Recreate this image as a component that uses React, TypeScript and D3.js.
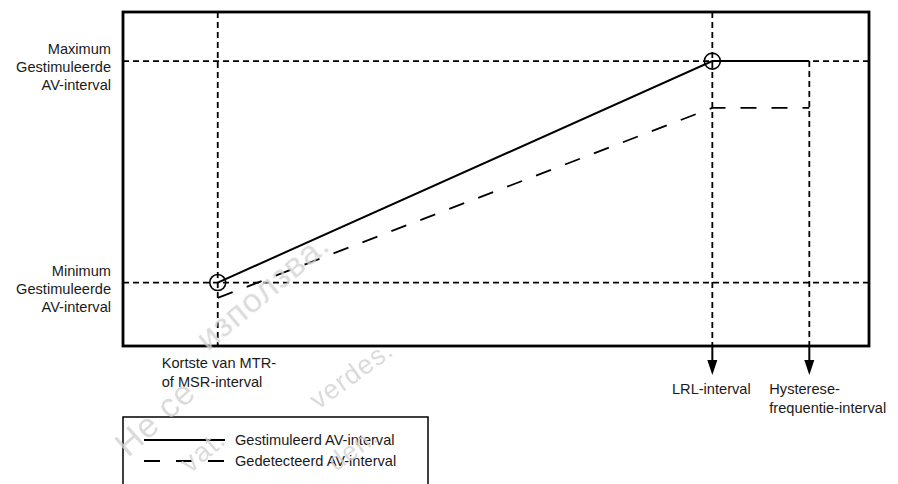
import React from "react";
import * as d3 from "d3";

// Conceptual x positions (intervals) and y levels (AV delays), in abstract units 0..100
const xMarks = [
  { key: "mtr", value: 12.7 },
  { key: "lrl", value: 79 },
  { key: "hyst", value: 92 },
];
const yLevels = [
  { key: "min", value: 19 },
  { key: "max", value: 85.3 },
];
const pacedX = [12.7, 79, 92];
const pacedY = [19, 85.3, 85.3];
const sensedX = [12.7, 79, 92];
const sensedY = [14.4, 71.3, 71.3];

const yLabels = [
  { value: 85.3, lines: ["Maximum", "Gestimuleerde", "AV-interval"] },
  { value: 19, lines: ["Minimum", "Gestimuleerde", "AV-interval"] },
];
const xLabels = [
  { value: 12.7, lines: ["Kortste van MTR-", "of MSR-interval"], anchor: "start", dx: -56, row: 0 },
  { value: 79, lines: ["LRL-interval"], anchor: "middle", dx: -1, row: 1 },
  { value: 92, lines: ["Hysterese-", "frequentie-interval"], anchor: "start", dx: -40, row: 1 },
];
const legendItems = [
  { label: "Gestimuleerd AV-interval", dash: "none" },
  { label: "Gedetecteerd AV-interval", dash: "16,16" },
];
// faint watermark fragments visible in the original
const watermarks = [
  { text: "Не се", x: 128, y: 458, angle: -42, size: 34 },
  { text: "използва.", x: 208, y: 352, angle: -40, size: 34 },
  { text: "vat.", x: 190, y: 474, angle: -40, size: 28 },
  { text: "verdes.", x: 318, y: 410, angle: -36, size: 27 },
  { text: "den.", x: 336, y: 472, angle: -36, size: 26 },
];

const W = 898;
const H = 484;
const frame = { left: 123, right: 869, top: 12, bottom: 346 };
const FONT = "'Liberation Sans', Arial, sans-serif";
const FS = 14.6;
const TEXT = "#1a1a1a";

export default function App() {
  const x = d3.scaleLinear().domain([0, 100]).range([frame.left, frame.right]);
  const y = d3.scaleLinear().domain([0, 100]).range([frame.bottom, frame.top]);
  const line = d3
    .line<[number, number]>()
    .x((d) => x(d[0]))
    .y((d) => y(d[1]));
  const paced = line(pacedX.map((v, i) => [v, pacedY[i]] as [number, number])) || "";
  const sensed = line(sensedX.map((v, i) => [v, sensedY[i]] as [number, number])) || "";
  const maxY = y(yLevels[1].value);
  const arrowTip = frame.bottom + 29;
  const dot = "6,4";

  return (
    <svg
      width={W}
      height={H}
      style={{ position: "absolute", left: 0, top: 0, display: "block" }}
      fontFamily={FONT}
    >
      <rect width={W} height={H} fill="white" />
      {/* horizontal dotted guides */}
      {yLevels.map((l) => (
        <line
          key={l.key}
          x1={frame.left}
          x2={frame.right}
          y1={y(l.value)}
          y2={y(l.value)}
          stroke="#000"
          strokeWidth={1.8}
          strokeDasharray={dot}
        />
      ))}
      {/* vertical dotted guides */}
      <line
        x1={x(xMarks[0].value)}
        x2={x(xMarks[0].value)}
        y1={frame.top}
        y2={frame.bottom}
        stroke="#000"
        strokeWidth={1.8}
        strokeDasharray={dot}
      />
      <line
        x1={x(xMarks[1].value)}
        x2={x(xMarks[1].value)}
        y1={frame.top}
        y2={frame.bottom}
        stroke="#000"
        strokeWidth={1.8}
        strokeDasharray={dot}
      />
      <line
        x1={x(xMarks[2].value)}
        x2={x(xMarks[2].value)}
        y1={maxY}
        y2={frame.bottom}
        stroke="#000"
        strokeWidth={1.8}
        strokeDasharray={dot}
      />
      {/* arrow stems below the frame and heads */}
      {[xMarks[1], xMarks[2]].map((m) => (
        <g key={m.key}>
          <line
            x1={x(m.value)}
            x2={x(m.value)}
            y1={frame.bottom}
            y2={arrowTip - 12}
            stroke="#000"
            strokeWidth={2}
          />
          <path
            d={`M${x(m.value) - 5},${arrowTip - 15} L${x(m.value) + 5},${arrowTip - 15} L${x(m.value)},${arrowTip} Z`}
            fill="#000"
          />
        </g>
      ))}
      {/* series */}
      <path d={sensed} fill="none" stroke="#000" strokeWidth={1.8} strokeDasharray="16,15" />
      <path d={paced} fill="none" stroke="#000" strokeWidth={2} />
      {[0, 1].map((i) => (
        <circle
          key={i}
          cx={x(pacedX[i])}
          cy={y(pacedY[i])}
          r={8}
          fill="none"
          stroke="#000"
          strokeWidth={1.6}
        />
      ))}
      {/* frame */}
      <rect
        x={frame.left}
        y={frame.top}
        width={frame.right - frame.left}
        height={frame.bottom - frame.top}
        fill="none"
        stroke="#000"
        strokeWidth={2.8}
      />
      {/* y labels */}
      {yLabels.map((l, i) => (
        <text key={i} textAnchor="end" fontSize={FS} fill={TEXT}>
          {l.lines.map((t, j) => (
            <tspan key={j} x={frame.left - 12} y={y(l.value) + (j - 1) * 18 + 11}>
              {t}
            </tspan>
          ))}
        </text>
      ))}
      {/* x labels */}
      {xLabels.map((l, i) => {
        const px = x(l.value) + l.dx;
        const ty = l.row === 0 ? frame.bottom + 22 : frame.bottom + 48;
        return (
          <text key={i} fontSize={FS} fill={TEXT} textAnchor={l.anchor}>
            {l.lines.map((t, j) => (
              <tspan key={j} x={px} y={ty + j * 18.5}>
                {t}
              </tspan>
            ))}
          </text>
        );
      })}
      {/* legend */}
      <rect x={frame.left} y={417} width={305} height={80} fill="white" stroke="#000" strokeWidth={1.5} />
      {legendItems.map((it, i) => (
        <g key={i}>
          <line
            x1={144}
            x2={225}
            y1={440 + i * 21}
            y2={440 + i * 21}
            stroke="#000"
            strokeWidth={2}
            strokeDasharray={it.dash}
          />
          <text x={235} y={440 + i * 21 + 5} fontSize={FS} fill={TEXT}>
            {it.label}
          </text>
        </g>
      ))}
      {/* watermark */}
      <g fill="#d2d2d2" opacity={0.8}>
        {watermarks.map((w, i) => (
          <text
            key={i}
            fontSize={w.size}
            transform={`translate(${w.x},${w.y}) rotate(${w.angle})`}
            letterSpacing={1}
          >
            {w.text}
          </text>
        ))}
      </g>
    </svg>
  );
}
